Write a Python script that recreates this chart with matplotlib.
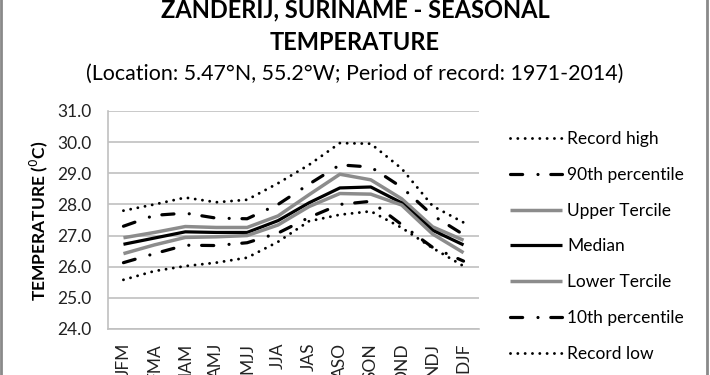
import matplotlib
matplotlib.use("Agg")
import matplotlib.pyplot as plt
from matplotlib.lines import Line2D

seasons = ['JFM', 'FMA', 'MAM', 'AMJ', 'MJJ', 'JJA', 'JAS', 'ASO', 'SON', 'OND', 'NDJ', 'DJF']
record_high = [27.8, 28.0, 28.22, 28.07, 28.15, 28.68, 29.27, 29.97, 29.95, 29.15, 27.95, 27.42]
p90 = [27.3, 27.65, 27.72, 27.56, 27.54, 28.0, 28.65, 29.27, 29.2, 28.55, 27.65, 27.03]
upper_tercile = [26.93, 27.1, 27.29, 27.26, 27.26, 27.63, 28.31, 28.97, 28.79, 28.18, 27.28, 26.85]
median = [26.72, 26.92, 27.12, 27.1, 27.1, 27.48, 28.05, 28.53, 28.56, 28.05, 27.17, 26.7]
lower_tercile = [26.42, 26.7, 26.94, 26.96, 27.0, 27.34, 27.93, 28.35, 28.33, 27.98, 27.05, 26.45]
p10 = [26.13, 26.42, 26.69, 26.68, 26.77, 27.08, 27.58, 28.0, 28.1, 27.35, 26.62, 26.18]
record_low = [25.58, 25.86, 26.02, 26.13, 26.29, 26.8, 27.46, 27.67, 27.78, 27.25, 26.6, 26.02]
yticks = [24.0, 25.0, 26.0, 27.0, 28.0, 29.0, 30.0, 31.0]

plt.rcParams['font.family'] = ['Lato', 'DejaVu Sans']

fig = plt.figure(figsize=(7.1, 3.75), dpi=100)
ax = fig.add_axes([108/710, 1-329/375, 371/710, 218/375])

x = list(range(len(seasons)))
dot = (0, (0.01, 2.5))
dashdot = (0, (3.8, 4.8, 0.01, 4.0))
gray = '#8c8c8c'
series = [
    ('Record high', record_high, 'black', dot, 2.1),
    ('90th percentile', p90, 'black', dashdot, 2.3),
    ('Upper Tercile', upper_tercile, gray, '-', 2.5),
    ('Median', median, 'black', '-', 2.3),
    ('Lower Tercile', lower_tercile, gray, '-', 2.5),
    ('10th percentile', p10, 'black', dashdot, 2.3),
    ('Record low', record_low, 'black', dot, 2.1),
]
for label, vals, col, ls, lw in series:
    ax.plot(x, vals, color=col, linestyle=ls, linewidth=lw, label=label,
            dash_capstyle='round', solid_capstyle='butt', zorder=3)

ax.set_xlim(-0.5, len(seasons) - 0.5)
ax.set_ylim(24, 31)
ax.set_yticks(yticks)
ax.set_yticklabels([f'{v:.1f}' for v in yticks])
ax.set_xticks(x)
ax.set_xticklabels(seasons, rotation=90)
ax.tick_params(axis='y', length=0, pad=12, labelsize=12.5, labelcolor='#222222')
ax.tick_params(axis='x', length=0, pad=10, labelsize=12.5, labelcolor='#222222')
ax.grid(axis='y', color='#c0c0c0', linewidth=1.2, zorder=0)
for s in ['right', 'top']:
    ax.spines[s].set_visible(False)
for s in ['left', 'bottom']:
    ax.spines[s].set_color('#c0c0c0')
    ax.spines[s].set_linewidth(1.2)

fig.text(39/710, 1-221/375, 'TEMPERATURE ($^{0}$C)', rotation=90, ha='center', va='center',
         fontsize=12.5, fontweight='bold')

fig.text(355/710, 1-17/375, 'ZANDERIJ, SURINAME - SEASONAL', ha='center', va='baseline',
         fontsize=17, fontweight='bold')
fig.text(355/710, 1-50/375, 'TEMPERATURE', ha='center', va='baseline',
         fontsize=17, fontweight='bold')
fig.text(355/710, 1-80/375, '(Location: 5.47°N, 55.2°W; Period of record: 1971-2014)',
         ha='center', va='baseline', fontsize=15.4)

leg = ax.legend(loc='upper left', bbox_to_anchor=(510/710, 1-131/375),
                bbox_transform=fig.transFigure, frameon=False, fontsize=12.5,
                handlelength=3.0, handletextpad=0.28, labelspacing=1.14,
                borderpad=0, borderaxespad=0)

fig.add_artist(Line2D([1/710, 1/710], [0, 1], transform=fig.transFigure, color='#8a8a8a', linewidth=2))
fig.add_artist(Line2D([707/710, 707/710], [0, 1], transform=fig.transFigure, color='#8a8a8a', linewidth=2))

fig.savefig('out.png', dpi=100)
